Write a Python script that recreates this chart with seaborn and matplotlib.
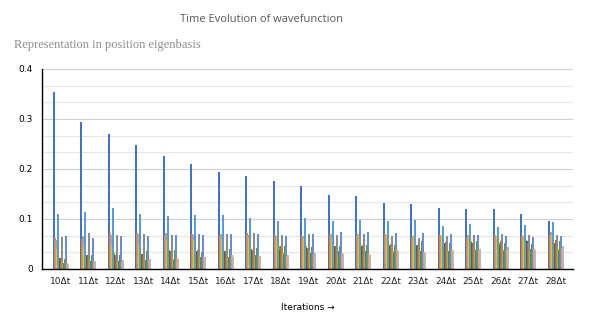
import numpy as np
import pandas as pd
import matplotlib
matplotlib.use("Agg")
import matplotlib.pyplot as plt
import seaborn as sns
from matplotlib.ticker import MultipleLocator, FuncFormatter

groups = [f"{i}\u0394t" for i in range(10, 29)]

s0 = [0.353,0.293,0.27,0.248,0.226,0.21,0.194,0.186,0.176,0.166,0.148,0.146,0.131,0.13,0.121,0.12,0.12,0.11,0.096]
s1 = [0.061,0.059,0.071,0.071,0.068,0.07,0.068,0.071,0.068,0.066,0.07,0.068,0.07,0.061,0.068,0.061,0.067,0.066,0.068]
s2 = [0.058,0.066,0.067,0.07,0.071,0.067,0.07,0.068,0.066,0.065,0.07,0.07,0.068,0.066,0.066,0.068,0.065,0.066,0.073]
s3 = [0.039,0.046,0.047,0.047,0.058,0.058,0.06,0.061,0.063,0.061,0.059,0.066,0.065,0.068,0.065,0.065,0.066,0.068,0.068]
s4 = [0.11,0.113,0.122,0.109,0.106,0.108,0.108,0.101,0.096,0.101,0.096,0.098,0.096,0.098,0.086,0.09,0.083,0.088,0.093]
s5 = [0.019,0.027,0.031,0.03,0.038,0.031,0.036,0.039,0.046,0.046,0.046,0.046,0.048,0.048,0.048,0.055,0.051,0.058,0.051]
s6 = [0.021,0.028,0.028,0.03,0.035,0.035,0.036,0.038,0.038,0.041,0.045,0.046,0.045,0.048,0.051,0.051,0.048,0.055,0.05]
s7 = [0.019,0.027,0.028,0.03,0.033,0.038,0.035,0.037,0.045,0.041,0.045,0.048,0.049,0.048,0.053,0.05,0.055,0.051,0.057]
s8 = [0.063,0.071,0.068,0.07,0.068,0.07,0.07,0.071,0.067,0.07,0.068,0.07,0.066,0.061,0.065,0.068,0.07,0.068,0.067]
s9 = [0.011,0.015,0.015,0.015,0.019,0.023,0.023,0.025,0.031,0.031,0.028,0.031,0.035,0.035,0.036,0.038,0.038,0.038,0.039]
s10 = [0.012,0.015,0.015,0.017,0.018,0.023,0.023,0.028,0.028,0.031,0.035,0.035,0.031,0.035,0.036,0.038,0.035,0.039,0.036]
s11 = [0.019,0.028,0.028,0.036,0.038,0.033,0.039,0.041,0.045,0.043,0.046,0.048,0.048,0.055,0.051,0.055,0.051,0.05,0.055]
s12 = [0.066,0.061,0.066,0.066,0.068,0.067,0.07,0.069,0.066,0.069,0.074,0.073,0.071,0.071,0.07,0.068,0.066,0.063,0.066]
s13 = [0.011,0.015,0.015,0.018,0.021,0.023,0.028,0.026,0.026,0.03,0.031,0.03,0.038,0.033,0.038,0.038,0.038,0.039,0.041]
s14 = [0.01,0.015,0.018,0.019,0.019,0.023,0.023,0.026,0.028,0.031,0.03,0.028,0.035,0.031,0.038,0.039,0.043,0.037,0.046]

series = [s0, s1, s2, s3, s4, s5, s6, s7, s8, s9, s10, s11, s12, s13, s14]
series_names = [f"x{k+1}" for k in range(len(series))]
colors = ["#4472C4", "#ED7D31", "#A5A5A5", "#FFC000", "#5B9BD5", "#70AD47",
          "#3A62A8", "#C8601E", "#8C8C8C", "#D9A400", "#3F7FBF", "#5A9A38",
          "#698ED0", "#F1975A", "#B7B7B7"]

rows = []
for name, vals in zip(series_names, series):
    for g, v in zip(groups, vals):
        rows.append({"group": g, "component": name, "value": v})
df = pd.DataFrame(rows)

sns.set_style("white")
plt.rcParams['font.family'] = ['DejaVu Sans']

W, H = 590, 326
fig = plt.figure(figsize=(W/100, H/100), dpi=100)
ax_left, ax_right = 42, 573
ax = fig.add_axes([ax_left/W, 57/H, (ax_right - ax_left)/W, 200/H])

step = 27.5          # pixels per category
first_center = 60.75 # pixel position of first group centre
nser = len(series)
sns.barplot(data=df, x="group", y="value", hue="component", order=groups,
            hue_order=series_names, palette=colors, width=nser/step, gap=0,
            linewidth=0, saturation=1, legend=False, ax=ax)
for p in ax.patches:
    p.set_antialiased(False)
    p.set_snap(False)

ax.set_ylim(0, 0.4)
ax.set_xlim(-(first_center - ax_left)/step, (ax_right - first_center)/step)
ax.yaxis.set_major_locator(MultipleLocator(0.1))
ax.yaxis.set_minor_locator(MultipleLocator(0.1/3))
ax.yaxis.set_major_formatter(FuncFormatter(lambda v, p: f"{v:g}"))
ax.grid(True, axis="y", which="major", color="#D0D0D0", linewidth=0.8)
ax.grid(True, axis="y", which="minor", color="#E6E6E6", linewidth=0.8)
ax.set_axisbelow(True)

for s in ["top", "right"]:
    ax.spines[s].set_visible(False)
for s in ["left", "bottom"]:
    ax.spines[s].set_color("black")
    ax.spines[s].set_linewidth(1.0)

ax.tick_params(axis="y", which="major", direction="inout", length=7, width=0.9,
               labelsize=6.5, colors="black", pad=3)
ax.tick_params(axis="y", which="minor", direction="inout", length=5, width=0.9)
ax.tick_params(axis="x", length=0, labelsize=6.5, pad=6)
for lab in ax.get_xticklabels():
    lab.set_color("#222222")

ax.set_xlabel("Iterations \u2192", fontsize=6.5, color="black", labelpad=12)
ax.set_ylabel("")

fig.text(261/W, 1 - 20/H, "Time Evolution of wavefunction", ha="center", va="center",
         fontsize=8, color="#595959", family="Open Sans")
fig.text(14/W, 1 - 45/H, "Representation in position eigenbasis", ha="left", va="center",
         fontsize=9, color="#8C8C8C", family="Liberation Serif")

fig.savefig("out.png", dpi=100)
